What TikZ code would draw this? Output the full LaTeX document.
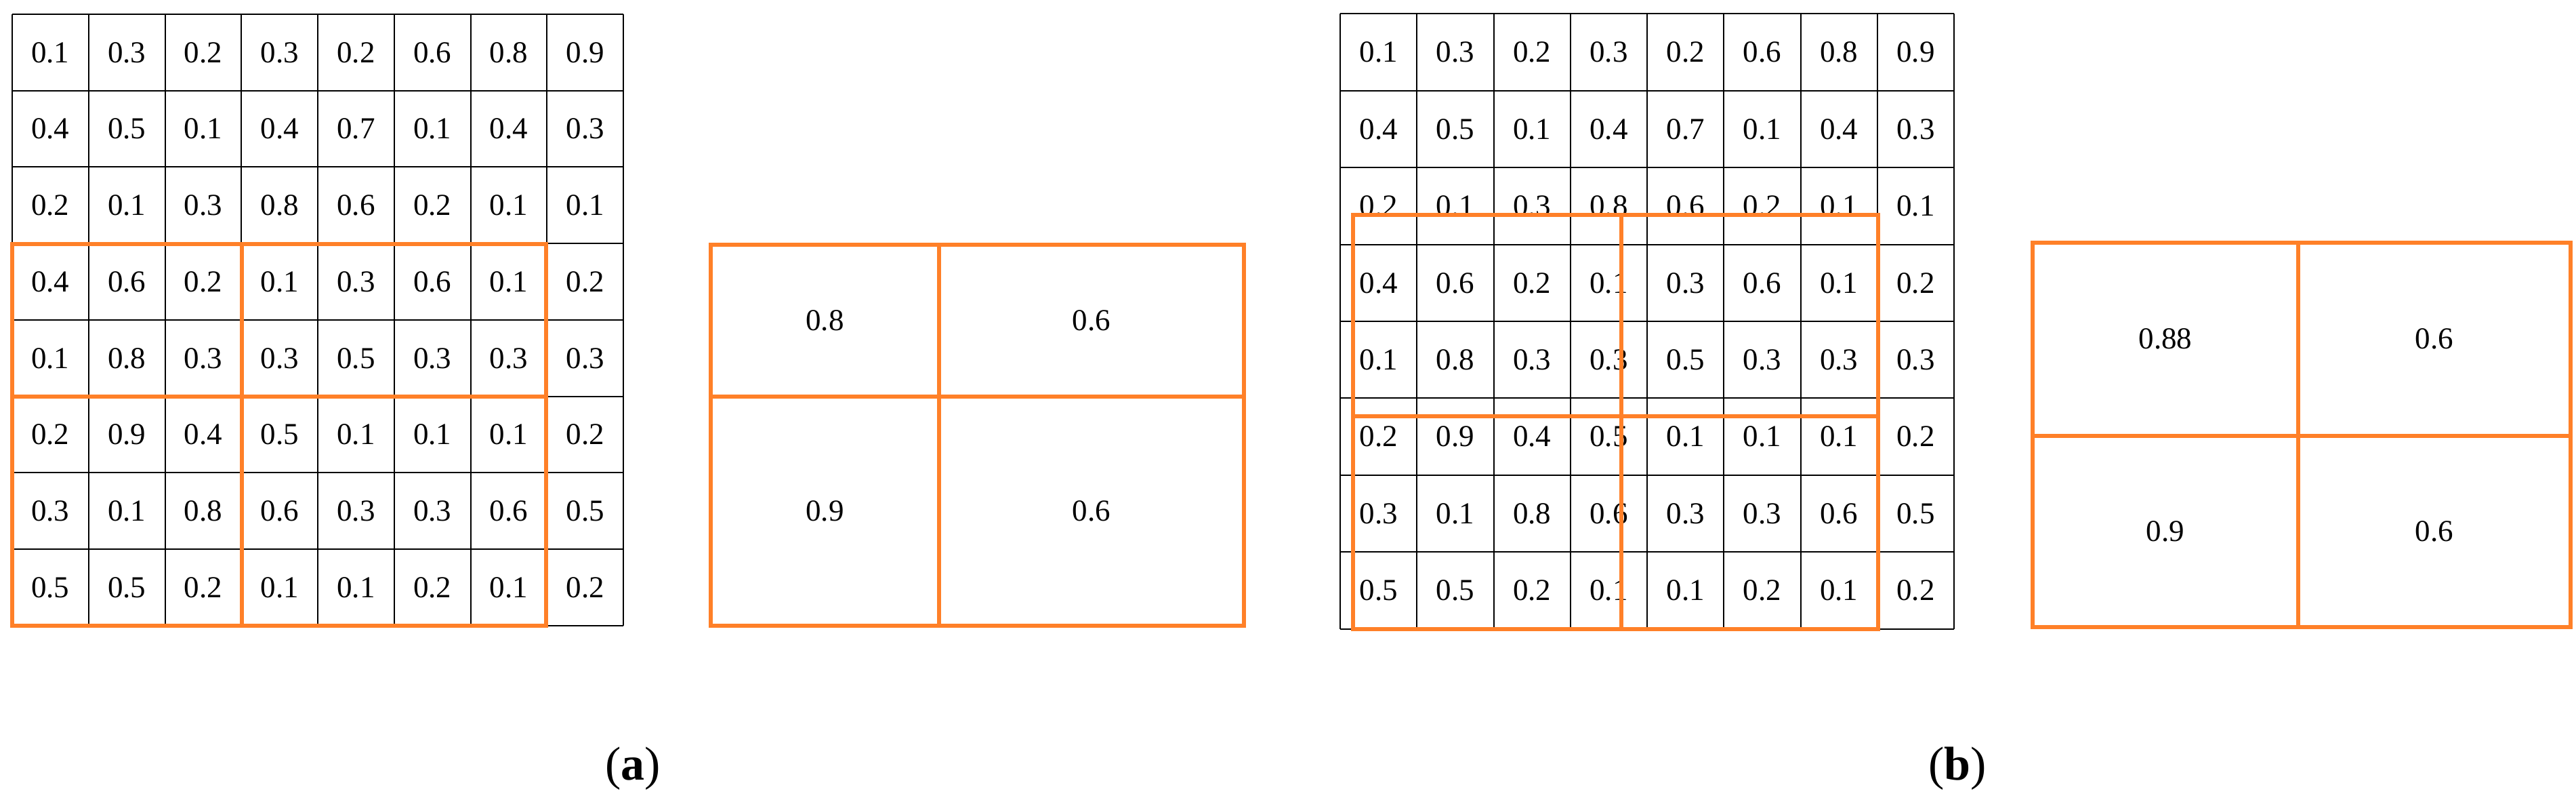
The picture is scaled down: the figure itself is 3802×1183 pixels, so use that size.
\documentclass[tikz,border=0pt]{standalone}
\usepackage{fontspec}
\setmainfont{Liberation Serif}
\definecolor{org}{RGB}{255,128,40}
\begin{document}
\begin{tikzpicture}[x=0.2pt,y=-0.2pt,
  val/.style={font=\fontsize{9}{10}\selectfont,inner sep=0pt},
  gridline/.style={draw=black,line width=0.4pt},
  orl/.style={draw=org,line width=1.3pt},
  captxt/.style={font=\fontsize{14}{16}\selectfont}]
\useasboundingbox (0,0) rectangle (3802,1183);
\def\vals{{{0.1,0.3,0.2,0.3,0.2,0.6,0.8,0.9},{0.4,0.5,0.1,0.4,0.7,0.1,0.4,0.3},{0.2,0.1,0.3,0.8,0.6,0.2,0.1,0.1},{0.4,0.6,0.2,0.1,0.3,0.6,0.1,0.2},{0.1,0.8,0.3,0.3,0.5,0.3,0.3,0.3},{0.2,0.9,0.4,0.5,0.1,0.1,0.1,0.2},{0.3,0.1,0.8,0.6,0.3,0.3,0.6,0.5},{0.5,0.5,0.2,0.1,0.1,0.2,0.1,0.2}}}
\foreach \r in {0,...,7}{\foreach \c in {0,...,7}{
  \pgfmathsetmacro{\v}{\vals[\r][\c]}
  \node[val] (a\r\c) at ({18+112.75*(\c+0.5)},{21+112.75*(\r+0.5)}) {\v};
  \node[val] (b\r\c) at ({1978+113.25*(\c+0.5)},{20.5+113.4*(\r+0.5)}) {\v};
}}
\foreach \i in {0,...,8}{
  \draw[gridline] ({18+112.75*\i},21) -- ({18+112.75*\i},923);
  \draw[gridline] (18,{21+112.75*\i}) -- (920,{21+112.75*\i});
  \draw[gridline] ({1978+113.25*\i},20.5) -- ({1978+113.25*\i},928);
  \draw[gridline] (1978,{20.5+113.4*\i}) -- (2884,{20.5+113.4*\i});
}
% orange (a)
\draw[orl] (18,360) rectangle (806,923);
\draw[orl] (357,360) -- (357,923);
\draw[orl] (18,585) -- (806,585);
\draw[orl] (1049,361) rectangle (1836,923);
\draw[orl] (1386,361) -- (1386,923);
\draw[orl] (1049,585) -- (1836,585);
\node[val] (pa1) at (1217.5,473) {0.8};
\node[val] (pa2) at (1611,473) {0.6};
\node[val] (pa3) at (1217.5,754) {0.9};
\node[val] (pa4) at (1611,754) {0.6};
\node[captxt] (la) at (934,1134) {(\textbf{a})};
% orange (b)
\draw[orl] (1997,317) rectangle (2393,614);
\draw[orl] (2393,317) rectangle (2772,614);
\draw[orl] (1997,614) rectangle (2393,928);
\draw[orl] (2393,614) rectangle (2772,928);
\draw[orl] (3000,358) rectangle (3794,925);
\draw[orl] (3392,358) -- (3392,925);
\draw[orl] (3000,643) -- (3794,643);
\node[val] (pb1) at (3196,500) {0.88};
\node[val] (pb2) at (3593,500) {0.6};
\node[val] (pb3) at (3196,784) {0.9};
\node[val] (pb4) at (3593,784) {0.6};
\node[captxt] (lb) at (2889,1134) {(\textbf{b})};
\end{tikzpicture}
\end{document}
